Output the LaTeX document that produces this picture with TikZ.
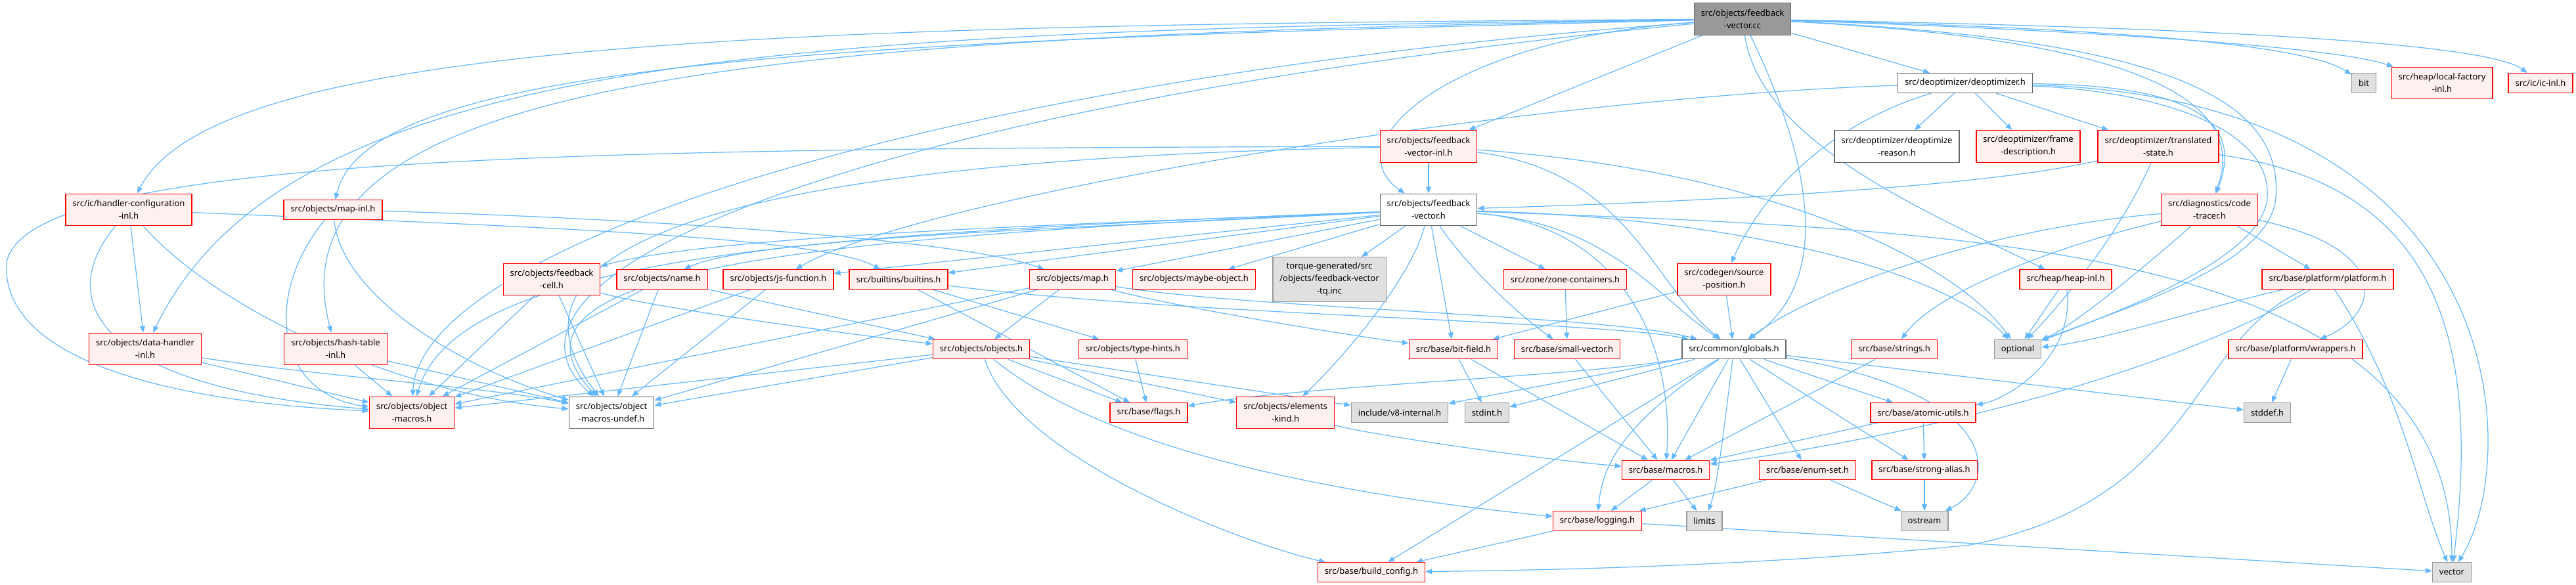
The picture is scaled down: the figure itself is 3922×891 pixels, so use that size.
\documentclass[tikz,border=0pt]{standalone}
\usepackage{fontspec}
\setmainfont{Noto Sans}
\usetikzlibrary{arrows.meta}

\definecolor{edgeblue}{HTML}{63B8FF}
\definecolor{hdrred}{HTML}{FF0000}
\definecolor{hdrfill}{HTML}{FFF0F0}
\definecolor{sysfill}{HTML}{E0E0E0}
\definecolor{sysline}{HTML}{999999}
\definecolor{whiteline}{HTML}{666666}
\definecolor{rootfill}{HTML}{999999}

\pgfdeclarelayer{canvas}
\pgfdeclarelayer{edges}
\pgfsetlayers{canvas,edges,main}

\tikzset{
  filebox/.style={rectangle, line width=1.3pt, inner xsep=10.5pt, inner ysep=0pt,
    minimum height=29.5pt, align=center, font=\fontsize{13pt}{19pt}\selectfont},
  twoline/.style={minimum height=48.5pt},
  threeline/.style={minimum height=67.5pt},
  hdr/.style={filebox, draw=hdrred, fill=hdrfill},
  sys/.style={filebox, draw=sysline, fill=sysfill},
  whitebox/.style={filebox, draw=whiteline, fill=white},
  rootnode/.style={filebox, draw=whiteline, fill=rootfill},
  dep/.style={draw=edgeblue, line width=1.2pt, -{Triangle[length=10pt,width=8pt]}}
}

\begin{document}
\begin{tikzpicture}[x=1pt, y=-1pt]
  \begin{pgfonlayer}{canvas}
    \fill[white] (0,0) rectangle (3922,891);
  \end{pgfonlayer}
  \useasboundingbox (0,0) rectangle (3922,891);

  % files, row by row
  \node[rootnode, twoline] (root) at (2653,29) {src/objects/feedback\\-vector.cc};

  \node[whitebox] (deopt) at (2992,126.5) {src/deoptimizer/deoptimizer.h};
  \node[sys] (bit) at (3599,126.5) {bit};
  \node[hdr, twoline] (lfac) at (3718,126.5) {src/heap/local-factory\\-inl.h};
  \node[hdr] (icinl) at (3868,126.5) {src/ic/ic-inl.h};

  \node[hdr, twoline] (fvinl) at (2175,223) {src/objects/feedback\\-vector-inl.h};
  \node[whitebox, twoline] (dreason) at (2888,223) {src/deoptimizer/deoptimize\\-reason.h};
  \node[hdr, twoline] (framedesc) at (3088,223) {src/deoptimizer/frame\\-description.h};
  \node[hdr, twoline] (tstate) at (3286,223) {src/deoptimizer/translated\\-state.h};

  \node[hdr, twoline] (hcfg) at (196,319.5) {src/ic/handler-configuration\\-inl.h};
  \node[hdr] (mapinl) at (507,319.5) {src/objects/map-inl.h};
  \node[whitebox, twoline] (fvh) at (2175,319.5) {src/objects/feedback\\-vector.h};
  \node[hdr, twoline] (ctracer) at (3364,319.5) {src/diagnostics/code\\-tracer.h};

  \node[hdr, twoline] (fcell) at (840,425.5) {src/objects/feedback\\-cell.h};
  \node[hdr] (nameh) at (1008,425.5) {src/objects/name.h};
  \node[hdr] (jsfun) at (1185,425.5) {src/objects/js-function.h};
  \node[hdr] (builtins) at (1368,425.5) {src/builtins/builtins.h};
  \node[hdr] (maph) at (1633,425.5) {src/objects/map.h};
  \node[hdr] (maybeobj) at (1818,425.5) {src/objects/maybe-object.h};
  \node[sys, threeline] (tqinc) at (2024,425.5) {torque-generated/src\\/objects/feedback-vector\\-tq.inc};
  \node[hdr] (zonec) at (2383,425.5) {src/zone/zone-containers.h};
  \node[hdr, twoline] (srcpos) at (2625,425.5) {src/codegen/source\\-position.h};
  \node[hdr] (heapinl) at (3145,425.5) {src/heap/heap-inl.h};
  \node[hdr] (platform) at (3544,425.5) {src/base/platform/platform.h};

  \node[hdr, twoline] (dhandler) at (221,531.5) {src/objects/data-handler\\-inl.h};
  \node[hdr, twoline] (htable) at (511,531.5) {src/objects/hash-table\\-inl.h};
  \node[hdr] (objectsh) at (1494,532) {src/objects/objects.h};
  \node[hdr] (typehints) at (1725,532) {src/objects/type-hints.h};
  \node[hdr] (bitfield) at (2213,532) {src/base/bit-field.h};
  \node[hdr] (smallvec) at (2386,532) {src/base/small-vector.h};
  \node[whitebox] (globals) at (2640,532) {src/common/globals.h};
  \node[hdr] (strings) at (2884,532) {src/base/strings.h};
  \node[sys] (optional) at (3072,532) {optional};
  \node[hdr] (wrappers) at (3495,532) {src/base/platform/wrappers.h};

  \node[hdr, twoline] (omacros) at (627,628.5) {src/objects/object\\-macros.h};
  \node[whitebox, twoline] (oundef) at (931,628.5) {src/objects/object\\-macros-undef.h};
  \node[hdr] (flags) at (1749,628.5) {src/base/flags.h};
  \node[hdr, twoline] (ekind) at (1957,628.5) {src/objects/elements\\-kind.h};
  \node[sys] (v8int) at (2131,628.5) {include/v8-internal.h};
  \node[sys] (stdint) at (2264,628.5) {stdint.h};
  \node[hdr] (atomic) at (2928,628.5) {src/base/atomic-utils.h};
  \node[sys] (stddef) at (3452,628.5) {stddef.h};

  \node[hdr] (macros) at (2536,716) {src/base/macros.h};
  \node[hdr] (enumset) at (2752,716) {src/base/enum-set.h};
  \node[hdr] (stralias) at (2930,716) {src/base/strong-alias.h};

  \node[hdr] (logging) at (2432,793.5) {src/base/logging.h};
  \node[sys] (limits) at (2595,793.5) {limits};
  \node[sys] (ostream) at (2930,793.5) {ostream};

  \node[hdr] (bconfig) at (2088,871.5) {src/base/build\_config.h};
  \node[sys] (vector) at (3733,871.5) {vector};

  \begin{pgfonlayer}{edges}
  % includes of the .cc file
  \draw[dep] (root) .. controls (1200,38) and (330,60) .. (hcfg);
  \draw[dep] (root) .. controls (1200,46) and (440,80) .. (dhandler);
  \draw[dep] (root) .. controls (1200,54) and (400,110) .. (htable);
  \draw[dep] (root) .. controls (1300,62) and (560,90) .. (mapinl);
  \draw[dep] (root) .. controls (1400,120) and (640,380) .. (omacros);
  \draw[dep] (root) .. controls (1300,160) and (700,420) .. (oundef);
  \draw[dep] (root) -- (fvinl);
  \draw[dep] (root) .. controls (2200,60) and (2030,220) .. (fvh);
  \draw[dep] (root) -- (deopt);
  \draw[dep] (root) .. controls (3100,40) and (3500,60) .. (bit);
  \draw[dep] (root) .. controls (3150,45) and (3550,70) .. (lfac);
  \draw[dep] (root) .. controls (3250,40) and (3780,60) .. (icinl);
  \draw[dep] (root) .. controls (3250,60) and (3425,150) .. (ctracer);
  \draw[dep] (root) .. controls (2680,220) and (2950,330) .. (heapinl);
  \draw[dep] (root) .. controls (2760,250) and (2790,430) .. (globals);
  \draw[dep] (root) .. controls (3300,60) and (3475,150) .. (3465,300)
    .. controls (3458,400) and (3260,460) .. (optional);

  % deoptimizer
  \draw[dep] (deopt) -- (dreason);
  \draw[dep] (deopt) -- (framedesc);
  \draw[dep] (deopt) -- (tstate);
  \draw[dep] (deopt) .. controls (2780,190) and (2680,300) .. (srcpos);
  \draw[dep] (deopt) .. controls (3350,130) and (3415,190) .. (ctracer);
  \draw[dep] (deopt) .. controls (3300,140) and (3458,200) .. (3452,300)
    .. controls (3447,390) and (3240,470) .. (optional);
  \draw[dep] (deopt) .. controls (3830,150) and (3840,700) .. (vector);
  \draw[dep] (deopt) .. controls (2300,150) and (1400,300) .. (jsfun);
  \draw[dep] (tstate) .. controls (3000,290) and (2500,310) .. (fvh);
  \draw[dep] (tstate) .. controls (3230,350) and (3150,450) .. (optional);
  \draw[dep] (tstate) .. controls (3700,280) and (3780,500) .. (vector);
  \draw[dep] (ctracer) -- (platform);
  \draw[dep] (ctracer) .. controls (3150,370) and (2950,440) .. (strings);
  \draw[dep] (ctracer) .. controls (3650,380) and (3620,480) .. (wrappers);
  \draw[dep] (ctracer) .. controls (3050,345) and (2780,430) .. (globals);
  \draw[dep] (ctracer) .. controls (3250,420) and (3150,500) .. (optional);

  % feedback vector headers
  \draw[dep] (fvinl) -- (fvh);
  \draw[dep] (fvinl) .. controls (900,226) and (40,235) .. (10,400)
    .. controls (0,560) and (300,615) .. (omacros);
  \draw[dep] (fvinl) .. controls (1300,240) and (700,330) .. (oundef);
  \draw[dep] (fvinl) .. controls (2480,260) and (2520,440) .. (globals);
  \draw[dep] (fvinl) .. controls (2700,260) and (2980,400) .. (optional);
  \draw[dep] (fvh) .. controls (1700,340) and (1100,355) .. (fcell);
  \draw[dep] (fvh) .. controls (1700,345) and (1150,360) .. (nameh);
  \draw[dep] (fvh) -- (jsfun);
  \draw[dep] (fvh) -- (builtins);
  \draw[dep] (fvh) -- (maph);
  \draw[dep] (fvh) -- (maybeobj);
  \draw[dep] (fvh) -- (tqinc);
  \draw[dep] (fvh) -- (zonec);
  \draw[dep] (fvh) -- (bitfield);
  \draw[dep] (fvh) .. controls (2230,400) and (2300,470) .. (smallvec);
  \draw[dep] (fvh) .. controls (2450,340) and (2520,450) .. (globals);
  \draw[dep] (fvh) .. controls (2150,420) and (2050,540) .. (ekind);
  \draw[dep] (fvh) .. controls (1300,355) and (700,380) .. (omacros);
  \draw[dep] (fvh) .. controls (1300,360) and (720,400) .. (oundef);
  \draw[dep] (fvh) .. controls (2600,330) and (2950,400) .. (optional);
  \draw[dep] (fvh) .. controls (3000,350) and (3733,370) .. (vector);
  \draw[dep] (fvh) .. controls (2450,340) and (2550,500) .. (macros);

  % left group
  \draw[dep] (hcfg) -- (dhandler);
  \draw[dep] (hcfg) .. controls (80,460) and (150,590) .. (omacros);
  \draw[dep] (hcfg) .. controls (330,470) and (600,600) .. (oundef);
  \draw[dep] (hcfg) .. controls (800,345) and (1250,360) .. (builtins);
  \draw[dep] (mapinl) .. controls (900,330) and (1450,360) .. (maph);
  \draw[dep] (mapinl) .. controls (400,450) and (420,600) .. (omacros);
  \draw[dep] (mapinl) .. controls (520,450) and (700,560) .. (oundef);
  \draw[dep] (dhandler) -- (omacros);
  \draw[dep] (dhandler) .. controls (500,575) and (750,590) .. (oundef);
  \draw[dep] (htable) -- (omacros);
  \draw[dep] (htable) -- (oundef);
  \draw[dep] (fcell) -- (omacros);
  \draw[dep] (fcell) -- (oundef);
  \draw[dep] (fcell) .. controls (1000,470) and (1300,510) .. (objectsh);
  \draw[dep] (nameh) -- (objectsh);
  \draw[dep] (nameh) -- (omacros);
  \draw[dep] (nameh) -- (oundef);
  \draw[dep] (jsfun) -- (omacros);
  \draw[dep] (jsfun) -- (oundef);
  \draw[dep] (builtins) -- (typehints);
  \draw[dep] (builtins) -- (flags);
  \draw[dep] (builtins) .. controls (1800,480) and (2450,490) .. (globals);
  \draw[dep] (maph) -- (objectsh);
  \draw[dep] (maph) -- (omacros);
  \draw[dep] (maph) -- (oundef);
  \draw[dep] (maph) .. controls (1800,470) and (2050,510) .. (bitfield);
  \draw[dep] (maph) .. controls (1900,470) and (2450,480) .. (globals);
  \draw[dep] (zonec) -- (smallvec);
  \draw[dep] (srcpos) -- (bitfield);
  \draw[dep] (srcpos) -- (globals);
  \draw[dep] (heapinl) -- (optional);
  \draw[dep] (heapinl) .. controls (3160,550) and (3050,610) .. (atomic);
  \draw[dep] (platform) .. controls (3350,470) and (3200,520) .. (optional);
  \draw[dep] (platform) .. controls (3250,600) and (2800,680) .. (macros);
  \draw[dep] (platform) .. controls (3330,520) and (3350,760) .. (3000,830)
    .. controls (2700,860) and (2400,868) .. (bconfig);
  \draw[dep] (platform) .. controls (3660,600) and (3680,750) .. (vector);
  \draw[dep] (wrappers) -- (stddef);

  % lower rows
  \draw[dep] (objectsh) -- (omacros);
  \draw[dep] (objectsh) -- (oundef);
  \draw[dep] (objectsh) -- (flags);
  \draw[dep] (objectsh) -- (ekind);
  \draw[dep] (objectsh) -- (v8int);
  \draw[dep] (objectsh) .. controls (1700,700) and (2100,760) .. (logging);
  \draw[dep] (objectsh) .. controls (1550,700) and (1900,830) .. (bconfig);
  \draw[dep] (typehints) -- (flags);
  \draw[dep] (ekind) .. controls (2100,665) and (2350,700) .. (macros);
  \draw[dep] (bitfield) -- (stdint);
  \draw[dep] (bitfield) -- (macros);
  \draw[dep] (smallvec) -- (macros);
  \draw[dep] (globals) .. controls (2400,575) and (2000,585) .. (flags);
  \draw[dep] (globals) -- (v8int);
  \draw[dep] (globals) -- (stdint);
  \draw[dep] (globals) -- (macros);
  \draw[dep] (globals) .. controls (2480,640) and (2440,700) .. (logging);
  \draw[dep] (globals) -- (bconfig);
  \draw[dep] (globals) .. controls (2625,650) and (2615,740) .. (limits);
  \draw[dep] (globals) .. controls (3060,600) and (3040,740) .. (ostream);
  \draw[dep] (globals) -- (atomic);
  \draw[dep] (globals) -- (enumset);
  \draw[dep] (globals) -- (stralias);
  \draw[dep] (globals) -- (stddef);
  \draw[dep] (strings) -- (macros);
  \draw[dep] (atomic) -- (stralias);
  \draw[dep] (atomic) -- (macros);
  \draw[dep] (enumset) -- (ostream);
  \draw[dep] (enumset) -- (logging);
  \draw[dep] (stralias) -- (ostream);
  \draw[dep] (macros) -- (logging);
  \draw[dep] (macros) -- (limits);
  \draw[dep] (logging) -- (bconfig);
  \draw[dep] (logging) -- (vector);
  \end{pgfonlayer}
\end{tikzpicture}
\end{document}
